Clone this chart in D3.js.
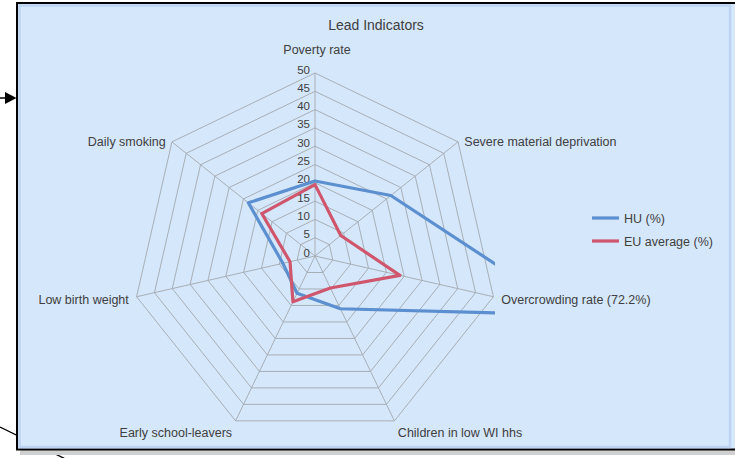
<!DOCTYPE html>
<html>
<head>
<meta charset="utf-8">
<script src="https://cdn.jsdelivr.net/npm/d3@7"></script>
<style>
  html, body { margin: 0; padding: 0; background: #ffffff; }
  svg { display: block; font-family: "Liberation Sans", Arial, sans-serif; }
</style>
</head>
<body>
<svg id="chart" width="735" height="458"></svg>
<script>
// ---- data ----
const categories = [
  "Poverty rate",
  "Severe material deprivation",
  "Overcrowding rate (72.2%)",
  "Children in low WI hhs",
  "Early school-leavers",
  "Low birth weight",
  "Daily smoking"
];
const huValues = [20.5, 26.5, 72.2, 16.0, 11.3, 9.0, 23.3];
const euValues = [19.5, 9.0, 23.8, 9.7, 13.9, 7.0, 18.6];
const seriesNames = ["HU (%)", "EU average (%)"];
const tickValues = [0, 5, 10, 15, 20, 25, 30, 35, 40, 45, 50];
const chartTitle = "Lead Indicators";

// ---- layout ----
const W = 735, H = 458;
const cx = 315, cy = 256, R = 183;
const colors = ["#5b8fd0", "#cf566c"];
const textColor = "#404040";
const gridColor = "#a3a8ae";

const svg = d3.select("#chart");

// annotations behind the frame
svg.append("line").attr("x1", 0).attr("y1", 427).attr("x2", 82).attr("y2", 467)
  .attr("stroke", "#000").attr("stroke-width", 1.3);
svg.append("line").attr("x1", 0).attr("y1", 98).attr("x2", 8).attr("y2", 98)
  .attr("stroke", "#000").attr("stroke-width", 1.5);
svg.append("path").attr("d", "M5,92L16.5,98L5,104Z").attr("fill", "#000");

// frame shadow
svg.append("rect").attr("x", 20).attr("y", 450).attr("width", 720).attr("height", 5)
  .attr("fill", "#d0d0d0");
// frame
svg.append("rect").attr("x", 17).attr("y", 3).attr("width", 730).attr("height", 446.5)
  .attr("fill", "#d5e7fb").attr("stroke", "#000").attr("stroke-width", 2);
svg.append("rect").attr("x", 19.5).attr("y", 5.5).attr("width", 710.5).attr("height", 441.5)
  .attr("fill", "none").attr("stroke", "#bcd4f1").attr("stroke-width", 2.5);

// title
svg.append("text").attr("x", 376).attr("y", 30).attr("text-anchor", "middle")
  .attr("font-size", 14).attr("fill", textColor).text(chartTitle);

const n = categories.length;
const angle = d3.scaleLinear().domain([0, n]).range([0, 2 * Math.PI]);
const r = d3.scaleLinear().domain([0, 50]).range([0, R]);
const pt = (i, v) => [cx + r(v) * Math.sin(angle(i)), cy - r(v) * Math.cos(angle(i))];

const g = svg.append("g");

// grid rings
const ringLine = d3.line();
tickValues.filter(t => t > 0).forEach(t => {
  const pts = d3.range(n).map(i => pt(i, t));
  g.append("path").attr("d", ringLine(pts) + "Z")
    .attr("fill", "none").attr("stroke", gridColor).attr("stroke-width", 0.9);
});
// spokes
d3.range(n).forEach(i => {
  const p = pt(i, 50);
  g.append("line").attr("x1", cx).attr("y1", cy).attr("x2", p[0]).attr("y2", p[1])
    .attr("stroke", gridColor).attr("stroke-width", 0.9);
});

// tick labels
g.selectAll("text.tick").data(tickValues).enter().append("text")
  .attr("class", "tick")
  .attr("x", cx - 5)
  .attr("y", d => cy - r(d) + 0.5)
  .attr("text-anchor", "end")
  .attr("font-size", 11.5)
  .attr("fill", textColor)
  .text(d => d);

// category labels
categories.forEach((c, i) => {
  const p = pt(i, 50);
  const s = Math.sin(angle(i)), co = Math.cos(angle(i));
  let anchor, x, y;
  if (Math.abs(s) < 0.1) {
    anchor = "middle"; x = p[0] + 2; y = p[1] - 19;
  } else {
    anchor = s > 0 ? "start" : "end";
    x = p[0] + s * 8;
    y = p[1] + 4 + Math.max(0, -co) * 13;
  }
  g.append("text").attr("x", x).attr("y", y).attr("text-anchor", anchor)
    .attr("font-size", 12.5).attr("fill", textColor).text(c);
});

// clip for series
svg.append("clipPath").attr("id", "plotclip").append("rect")
  .attr("x", 25).attr("y", 40).attr("width", 470).attr("height", 405);

const radarLine = d3.line().x(d => d[0]).y(d => d[1]);
const series = [huValues, euValues];
const sg = svg.append("g").attr("clip-path", "url(#plotclip)");
series.forEach((vals, k) => {
  const pts = vals.map((v, i) => pt(i, v));
  sg.append("path").attr("d", radarLine(pts) + "Z")
    .attr("fill", "none").attr("stroke", colors[k]).attr("stroke-width", 3.2)
    .attr("stroke-linejoin", "round");
});

// legend
const legY = [218, 241];
seriesNames.forEach((name, k) => {
  svg.append("line").attr("x1", 592).attr("x2", 619).attr("y1", legY[k]).attr("y2", legY[k])
    .attr("stroke", colors[k]).attr("stroke-width", 3.2);
  svg.append("text").attr("x", 624).attr("y", legY[k] + 4.5)
    .attr("font-size", 12.5).attr("fill", textColor).text(name);
});
</script>
</body>
</html>
